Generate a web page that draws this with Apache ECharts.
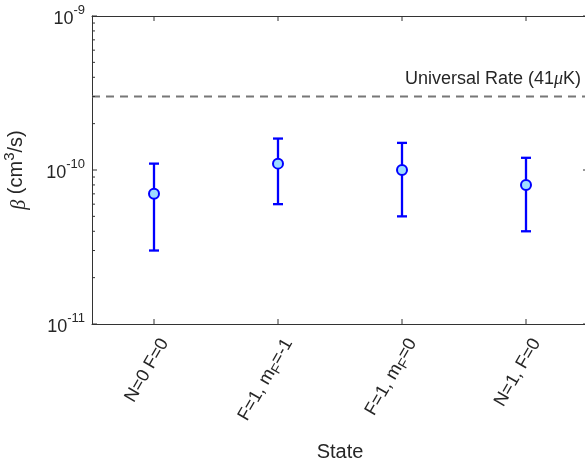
<!DOCTYPE html>
<html>
<head>
<meta charset="utf-8">
<script src="https://cdn.jsdelivr.net/npm/echarts@6/dist/echarts.min.js"></script>
<style>
html, body { margin: 0; padding: 0; background: #fff; }
#main { width: 585px; height: 458px; }
</style>
</head>
<body>
<div id="main"></div>
<script>
// data
var states = ['N=0 F=0', 'F=1, m_F=-1', 'F=1, m_F=0', 'N=1, F=0'];
var beta = [7e-11, 1.1e-10, 1.0e-10, 8e-11];
var betaLow = [3e-11, 6e-11, 5e-11, 4e-11];
var betaHigh = [1.1e-10, 1.6e-10, 1.5e-10, 1.2e-10];
var universalRate = [3e-10];
var universalLabel = 'Universal Rate (41{mu|μ}K)';
var yMin = 1e-11, yMax = 1e-9;
var yMajor = [1e-11, 1e-10, 1e-9];

var FONT = 'Liberation Sans';
var TXT = '#262626';
var AX = '#333333';

var chart = echarts.init(document.getElementById('main'));

function stateLabel(s) {
  return s.replace('m_F', 'm{sub|F}');
}
function powLabel(v) {
  var e = Math.round(Math.log10(v));
  return '{b|10}{s|' + e + '}';
}

var option = {
  animation: false,
  textStyle: { fontFamily: FONT, color: TXT },
  grid: { left: 92, top: 16, width: 496, height: 308, outerBoundsMode: 'none', containLabel: false },
  xAxis: [{
    type: 'category',
    data: states,
    position: 'bottom',
    boundaryGap: true,
    axisLine: { lineStyle: { color: AX, width: 1 } },
    axisTick: { show: false },
    axisLabel: {
      rotate: 60, margin: 10, fontSize: 18, color: TXT, fontFamily: FONT,
      verticalAlign: 'top', lineHeight: 24,
      formatter: stateLabel,
      rich: { sub: { fontSize: 14, verticalAlign: 'bottom', lineHeight: 12, fontFamily: FONT, color: TXT } }
    },
    splitLine: { show: false },
    name: 'State',
    nameLocation: 'middle',
    nameGap: 118,
    nameTextStyle: { fontSize: 20, color: TXT, fontFamily: FONT }
  }, {
    type: 'category',
    data: states,
    position: 'top',
    boundaryGap: true,
    axisLine: { lineStyle: { color: AX, width: 1 } },
    axisTick: { show: false },
    axisLabel: { show: false }
  }],
  yAxis: [{
    type: 'log',
    logBase: 10,
    min: yMin,
    max: yMax,
    position: 'left',
    axisLine: { show: true, lineStyle: { color: AX, width: 1 } },
    axisTick: { show: false },
    splitLine: { show: false },
    axisLabel: {
      margin: 7, color: TXT, fontFamily: FONT,
      formatter: powLabel,
      rich: {
        b: { fontSize: 18, lineHeight: 24, verticalAlign: 'bottom', fontFamily: FONT, color: TXT },
        s: { fontSize: 13, lineHeight: 14, verticalAlign: 'top', fontFamily: FONT, color: TXT }
      }
    },
    name: '{i|β} (cm{sup|3}/s)',
    nameLocation: 'middle',
    nameGap: 62,
    nameRotate: 90,
    nameTextStyle: {
      fontSize: 20, color: TXT, fontFamily: FONT,
      rich: {
        i: { fontSize: 20, fontStyle: 'italic', fontFamily: 'Liberation Serif', color: TXT, lineHeight: 28, verticalAlign: 'bottom' },
        sup: { fontSize: 15, lineHeight: 14, verticalAlign: 'top', fontFamily: FONT, color: TXT }
      }
    }
  }, {
    type: 'log',
    logBase: 10,
    min: yMin,
    max: yMax,
    position: 'right',
    axisLine: { show: true, lineStyle: { color: AX, width: 1 } },
    axisTick: { show: false },
    splitLine: { show: false },
    axisLabel: { show: false }
  }],
  series: [{
    // dashed reference line across the whole axes
    type: 'custom',
    name: 'universal',
    xAxisIndex: 0,
    yAxisIndex: 0,
    encode: { y: 0 },
    data: universalRate.map(function (v) { return [v]; }),
    renderItem: function (params, api) {
      var cs = params.coordSys;
      var y = api.coord([0, api.value(0)])[1];
      return {
        type: 'group',
        children: [{
          type: 'line',
          shape: { x1: cs.x, y1: y, x2: cs.x + cs.width, y2: y },
          style: { stroke: '#777777', lineWidth: 2, lineDash: [8, 6], fill: null }
        }, {
          type: 'text',
          x: cs.x + cs.width - 7,
          y: y - 8,
          style: {
            text: universalLabel,
            align: 'right',
            verticalAlign: 'bottom',
            fontSize: 18,
            fontFamily: FONT,
            fill: TXT,
            rich: { mu: { fontStyle: 'italic', fontSize: 18, fontFamily: 'Liberation Serif', fill: TXT } }
          }
        }]
      };
    },
    silent: true,
    z: 1
  }, {
    type: 'custom',
    name: 'error',
    xAxisIndex: 0,
    yAxisIndex: 0,
    encode: { x: 0, y: [1, 2] },
    data: states.map(function (s, i) { return [i, betaLow[i], betaHigh[i]]; }),
    renderItem: function (params, api) {
      var x = api.value(0);
      var lo = api.coord([x, api.value(1)]);
      var hi = api.coord([x, api.value(2)]);
      var hw = 5;
      var st = { stroke: '#0000ff', lineWidth: 2.3, fill: null };
      return {
        type: 'group',
        children: [
          { type: 'line', shape: { x1: hi[0], y1: hi[1], x2: lo[0], y2: lo[1] }, style: st },
          { type: 'line', shape: { x1: hi[0] - hw, y1: hi[1], x2: hi[0] + hw, y2: hi[1] }, style: st },
          { type: 'line', shape: { x1: lo[0] - hw, y1: lo[1], x2: lo[0] + hw, y2: lo[1] }, style: st }
        ]
      };
    },
    z: 2
  }, {
    type: 'scatter',
    name: 'beta',
    xAxisIndex: 0,
    yAxisIndex: 0,
    data: states.map(function (s, i) { return [i, beta[i]]; }),
    symbol: 'circle',
    symbolSize: 10,
    itemStyle: { color: '#9edcff', borderColor: '#0000ff', borderWidth: 2, opacity: 1 },
    z: 3
  }]
};

chart.setOption(option);

// inward ticks on all four sides (MATLAB box style), placed through the axes' scales
var xl = chart.convertToPixel({ xAxisIndex: 0 }, 0) - 62;
var xr = xl + 496;
var yb = chart.convertToPixel({ yAxisIndex: 0 }, yMin);
var yt = chart.convertToPixel({ yAxisIndex: 0 }, yMax);
var gfx = [];
function tick(x1, y1, x2, y2) {
  gfx.push({ type: 'line', shape: { x1: x1, y1: y1, x2: x2, y2: y2 }, style: { stroke: AX, lineWidth: 1 }, silent: true, z: 5 });
}
yMajor.forEach(function (v) {
  var y = chart.convertToPixel({ yAxisIndex: 0 }, v);
  tick(xl, y, xl + 5, y);
  tick(xr - 5, y, xr, y);
});
for (var d = -11; d < -9; d++) {
  for (var k = 2; k <= 9; k++) {
    var y = chart.convertToPixel({ yAxisIndex: 0 }, k * Math.pow(10, d));
    tick(xl, y, xl + 3, y);
    tick(xr - 3, y, xr, y);
  }
}
states.forEach(function (s, i) {
  var x = chart.convertToPixel({ xAxisIndex: 0 }, i);
  tick(x, yb, x, yb - 5);
  tick(x, yt, x, yt + 5);
});
chart.setOption({ graphic: gfx });
</script>
</body>
</html>
